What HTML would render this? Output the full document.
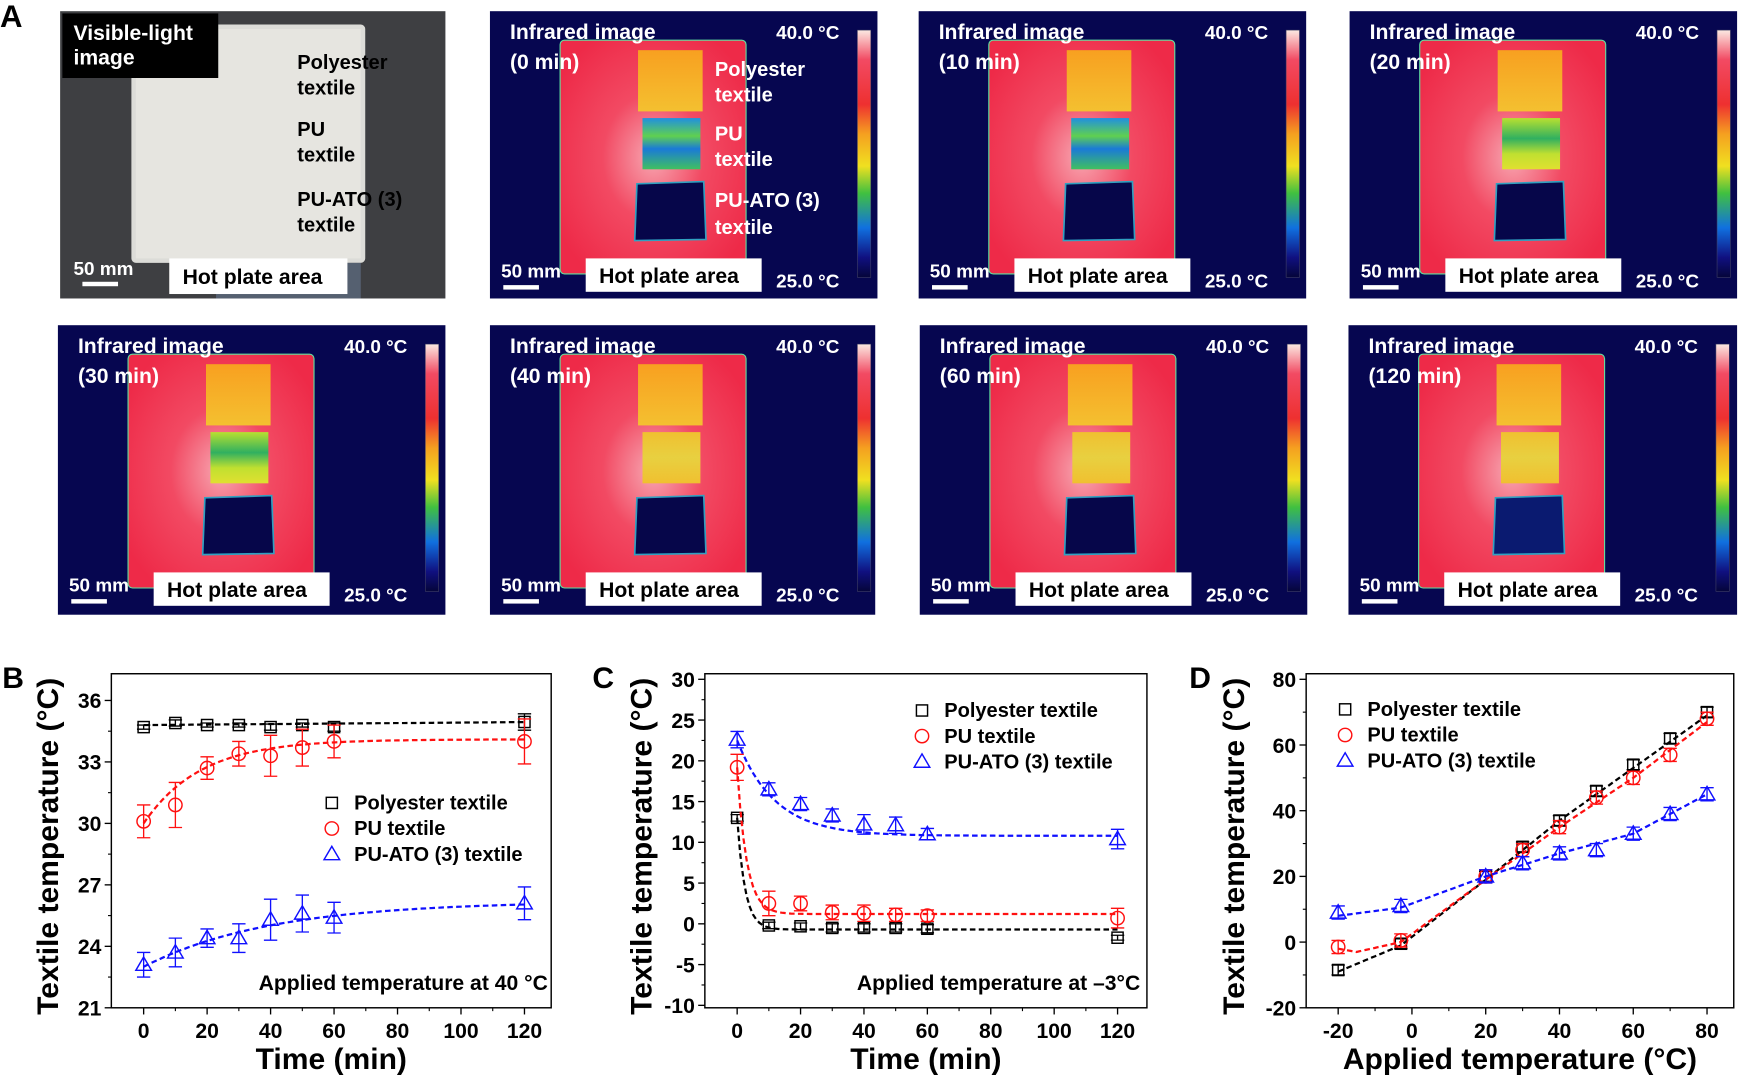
<!DOCTYPE html>
<html><head><meta charset="utf-8"><style>
html,body{margin:0;padding:0;background:#fff;}
svg{display:block;font-family:"Liberation Sans",Arial,sans-serif;font-weight:bold;}
</style></head><body>
<svg id="s" width="1746" height="1078" viewBox="0 0 1568 968" xmlns="http://www.w3.org/2000/svg">
<defs>
<radialGradient id="plate" cx="50%" cy="50%" r="60%">
<stop offset="0" stop-color="#f7a7b2"/><stop offset="0.45" stop-color="#f24a63"/><stop offset="1" stop-color="#ee2a48"/>
</radialGradient>
<linearGradient id="cbar" x1="0" y1="0" x2="0" y2="1">
<stop offset="0" stop-color="#fbe9e2"/><stop offset="0.12" stop-color="#f24a63"/><stop offset="0.3" stop-color="#ee3030"/>
<stop offset="0.42" stop-color="#f5a020"/><stop offset="0.55" stop-color="#f0e020"/><stop offset="0.66" stop-color="#40c040"/>
<stop offset="0.8" stop-color="#1070e0"/><stop offset="0.92" stop-color="#101080"/><stop offset="1" stop-color="#05053a"/>
</linearGradient>
<linearGradient id="pe" x1="0" y1="0" x2="0" y2="1"><stop offset="0" stop-color="#f8a020"/><stop offset="1" stop-color="#f4c030"/></linearGradient>
<linearGradient id="pu0" x1="0" y1="0" x2="0" y2="1"><stop offset="0" stop-color="#2090e0"/><stop offset="0.35" stop-color="#60d050"/><stop offset="0.6" stop-color="#1a7ad8"/><stop offset="1" stop-color="#40c060"/></linearGradient>
<linearGradient id="pu1" x1="0" y1="0" x2="0" y2="1"><stop offset="0" stop-color="#b8e030"/><stop offset="0.4" stop-color="#30b060"/><stop offset="0.7" stop-color="#c0e030"/><stop offset="1" stop-color="#e0e030"/></linearGradient>
<linearGradient id="pu2" x1="0" y1="0" x2="0" y2="1"><stop offset="0" stop-color="#f0c030"/><stop offset="0.5" stop-color="#e8d040"/><stop offset="1" stop-color="#f0c030"/></linearGradient>
</defs>
<g id="root"></g>
</svg>
<script>
var NS="http://www.w3.org/2000/svg",root=document.getElementById("root");
function el(t,a,txt,p){var e=document.createElementNS(NS,t);for(var k in a)e.setAttribute(k,a[k]);if(txt!=null)e.textContent=txt;(p||root).appendChild(e);return e;}
function tx(x,y,s,sz,a){a=a||{};a.x=x;a.y=y;a["font-size"]=sz;if(!a.fill)a.fill="#000";return el("text",a,s,a.parent);}
tx(0,24,"A",28);
(function(){var x=54,y=10,w=346,h=258;
el("rect",{x:x,y:y,width:w,height:h,fill:"#3e3f42"});
el("rect",{x:x+64,y:y+12,width:210,height:214,rx:4,fill:"#dcdcd8"});
el("rect",{x:x+68,y:y+16,width:202,height:206,fill:"#e6e5e0"});
el("rect",{x:x+140,y:y+226,width:130,height:32,fill:"#556070"});
el("rect",{x:x+2,y:y+2,width:140,height:58,fill:"#000"});
tx(x+12,y+26,"Visible-light",19,{fill:"#fff"});tx(x+12,y+48,"image",19,{fill:"#fff"});
tx(x+213,y+52,"Polyester",18);tx(x+213,y+75,"textile",18);
tx(x+213,y+112,"PU",18);tx(x+213,y+135,"textile",18);
tx(x+213,y+175,"PU-ATO (3)",18);tx(x+213,y+198,"textile",18);
el("rect",{x:x+98,y:y+222,width:160,height:32,fill:"#fff"});
tx(x+110,y+245,"Hot plate area",19);
tx(x+12,y+237,"50 mm",17,{fill:"#fff"});
el("rect",{x:x+20,y:y+243,width:32,height:4,fill:"#fff"});
})();
function ir(x,y,w,h,t,pu,first,ati){
el("rect",{x:x,y:y,width:w,height:h,fill:"#060650"});
el("rect",{x:x+63,y:y+26,width:167,height:210,rx:4,fill:"url(#plate)",stroke:"#60e0a0","stroke-width":1});
el("rect",{x:x+133,y:y+35,width:58,height:55,fill:"url(#pe)"});
el("rect",{x:x+137,y:y+96,width:52,height:46,fill:"url("+pu+")"});
el("path",{d:"M"+(x+132)+" "+(y+155)+"L"+(x+192)+" "+(y+153)+"L"+(x+194)+" "+(y+205)+"L"+(x+130)+" "+(y+206)+"Z",fill:ati||"#06064a",stroke:"#30a0c0","stroke-width":1.5});
el("rect",{x:x+330,y:y+17,width:12,height:222,fill:"url(#cbar)",stroke:"#446","stroke-width":0.5});
tx(x+18,y+25,"Infrared image",19,{fill:"#fff"});tx(x+18,y+52,"("+t+" min)",19,{fill:"#fff"});
tx(x+257,y+25,"40.0 °C",17,{fill:"#fff"});tx(x+257,y+248,"25.0 °C",17,{fill:"#fff"});
if(first){tx(x+202,y+58,"Polyester",18,{fill:"#fff"});tx(x+202,y+81,"textile",18,{fill:"#fff"});
tx(x+202,y+116,"PU",18,{fill:"#fff"});tx(x+202,y+139,"textile",18,{fill:"#fff"});
tx(x+202,y+176,"PU-ATO (3)",18,{fill:"#fff"});tx(x+202,y+200,"textile",18,{fill:"#fff"});}
el("rect",{x:x+86,y:y+222,width:158,height:30,fill:"#fff"});
tx(x+98,y+244,"Hot plate area",19);
tx(x+10,y+239,"50 mm",17,{fill:"#fff"});
el("rect",{x:x+12,y:y+246,width:32,height:4,fill:"#fff"});
}
ir(440,10,348,258,"0","#pu0",true);
ir(825,10,348,258,"10","#pu0",false);
ir(1212,10,348,258,"20","#pu1",false);
ir(52,292,348,260,"30","#pu1",false);
ir(440,292,346,260,"40","#pu2",false);
ir(826,292,348,260,"60","#pu2",false);
ir(1211,292,349,260,"120","#pu2",false,"#0a1a70");

var BL="#000",RD="#ff1010",BU="#1010ff";
function marker(kind,x,y,c){
if(kind==0)el("rect",{x:x-5,y:y-5,width:10,height:10,fill:"none",stroke:c,"stroke-width":1.3});
else if(kind==1)el("circle",{cx:x,cy:y,r:6,fill:"none",stroke:c,"stroke-width":1.3});
else el("path",{d:"M"+x+" "+(y-7)+"L"+(x+7)+" "+(y+5)+"L"+(x-7)+" "+(y+5)+"Z",fill:"none",stroke:c,"stroke-width":1.3});}
function plot(o){
var X=o.X,Y=o.Y;
el("rect",{x:o.l,y:o.t,width:o.r-o.l,height:o.b-o.t,fill:"none",stroke:"#000","stroke-width":1.3});
o.xt.forEach(function(v){var px=X(v);el("line",{x1:px,y1:o.b,x2:px,y2:o.b+6,stroke:"#000","stroke-width":1.2});tx(px,o.b+27,String(v),19,{"text-anchor":"middle"});});
(o.xm||[]).forEach(function(v){var px=X(v);el("line",{x1:px,y1:o.b,x2:px,y2:o.b+3,stroke:"#000"});});
o.yt.forEach(function(v){var py=Y(v);el("line",{x1:o.l,y1:py,x2:o.l-6,y2:py,stroke:"#000","stroke-width":1.2});tx(o.l-9,py+7,String(v),19,{"text-anchor":"end"});});
(o.ym||[]).forEach(function(v){var py=Y(v);el("line",{x1:o.l,y1:py,x2:o.l-3,y2:py,stroke:"#000"});});
tx(o.l+(o.r-o.l)/2,o.b+55,o.xl,27,{"text-anchor":"middle"});
tx(0,0,"Textile temperature (°C)",27,{"text-anchor":"middle",transform:"translate("+o.yl+","+((o.t+o.b)/2+5)+") rotate(-90)"});
tx(o.L[0],o.L[1],o.lab,27);
var cols=[BL,RD,BU];
o.series.forEach(function(s,i){
var d="";s.fit.forEach(function(p,j){d+=(j?"L":"M")+X(p[0]).toFixed(1)+" "+Y(p[1]).toFixed(1);});
el("path",{d:d,fill:"none",stroke:cols[i],"stroke-width":2,"stroke-dasharray":"5,3"});
s.pts.forEach(function(p){var px=X(p[0]),py=Y(p[1]);
if(p[2]){var y1=Y(p[1]+p[2]),y2=Y(p[1]-p[2]);el("path",{d:"M"+px+" "+y1+"V"+y2+"M"+(px-6)+" "+y1+"h12M"+(px-6)+" "+y2+"h12",stroke:cols[i],"stroke-width":1.2,fill:"none"});}
marker(i,px,py,cols[i]);});
});
var lg=o.leg,names=["Polyester textile","PU textile","PU-ATO (3) textile"];
names.forEach(function(n,i){marker(i,lg[0],lg[1]+i*23-6,cols[i]);tx(lg[0]+20,lg[1]+i*23,n,18);});
tx(o.note[0],o.note[1],o.note[2],19,{"text-anchor":"end"});
}
function fitf(f,a,b){var r=[];for(var t=a;t<=b+1e-9;t+=(b-a)/120)r.push([t,f(t)]);return r;}
plot({l:100,r:495,t:605,b:905,X:function(v){return 129+v*2.85;},Y:function(v){return 905-(v-21)*18.4;},
xt:[0,20,40,60,80,100,120],xm:[10,30,50,70,90,110],yt:[21,24,27,30,33,36],ym:[22.5,25.5,28.5,31.5,34.5],
xl:"Time (min)",yl:52,L:[2,618],lab:"B",leg:[298,727],note:[492,889,"Applied temperature at 40 °C"],
series:[
{pts:[[0,34.7,0.1],[10,34.9,0.15],[20,34.8,0.1],[30,34.8,0.1],[40,34.7,0.15],[50,34.8,0.1],[60,34.7,0.2],[120,34.95,0.4]],fit:fitf(function(t){return 34.8+0.0012*t;},0,120)},
{pts:[[0,30.1,0.8],[10,30.9,1.1],[20,32.7,0.55],[30,33.4,0.6],[40,33.3,1.0],[50,33.7,0.9],[60,34.0,0.8],[120,34.0,1.1]],fit:fitf(function(t){return 30+4.1*(1-Math.exp(-t/18));},0,120)},
{pts:[[0,23.1,0.6],[10,23.7,0.7],[20,24.4,0.45],[30,24.4,0.7],[40,25.3,1.0],[50,25.6,0.9],[60,25.4,0.75],[120,26.1,0.8]],fit:fitf(function(t){return 23.0+3.2*(1-Math.exp(-t/40));},0,120)}]});
plot({l:633,r:1030,t:605,b:905,X:function(v){return 662+v*2.847;},Y:function(v){return 610+(30-v)*7.32;},
xt:[0,20,40,60,80,100,120],xm:[10,30,50,70,90,110],yt:[-10,-5,0,5,10,15,20,25,30],ym:[-7.5,-2.5,2.5,7.5,12.5,17.5,22.5,27.5],
xl:"Time (min)",yl:585,L:[532,618],lab:"C",leg:[828,644],note:[1024,889,"Applied temperature at \u20133°C"],
series:[
{pts:[[0,13,0.4],[10,-0.2,0.4],[20,-0.3,0.4],[30,-0.5,0.5],[40,-0.5,0.5],[50,-0.5,0.5],[60,-0.6,0.5],[120,-1.7,0.3]],fit:fitf(function(t){return -0.7+13.7*Math.exp(-t/2.5);},0,120)},
{pts:[[0,19.2,1.6],[10,2.5,1.5],[20,2.5,0.9],[30,1.4,0.9],[40,1.3,1.0],[50,1.1,0.8],[60,1.0,0.7],[120,0.7,1.2]],fit:fitf(function(t){return 1.2+18*Math.exp(-t/3);},0,120)},
{pts:[[0,22.6,1.0],[10,16.5,0.8],[20,14.7,0.8],[30,13.3,0.8],[40,12.2,1.2],[50,12.1,1.0],[60,11.0,0.7],[120,10.4,1.2]],fit:fitf(function(t){return 10.8+11.7*Math.exp(-t/12);},0,120)}]});
function interp(xs,ys){return function(t){for(var i=0;i<xs.length-1;i++){if(t<=xs[i+1]){var u=(t-xs[i])/(xs[i+1]-xs[i]);return ys[i]+(ys[i+1]-ys[i])*u;}}return ys[ys.length-1];};}
var dx=[-20,-3,20,30,40,50,60,70,80];
plot({l:1173,r:1557,t:605,b:905,X:function(v){return 1268+v*3.3125;},Y:function(v){return 905-(v+20)*2.95;},
xt:[-20,0,20,40,60,80],xm:[-10,10,30,50,70],yt:[-20,0,20,40,60,80],ym:[-10,10,30,50,70],
xl:"Applied temperature (°C)",yl:1117,L:[1068,618],lab:"D",leg:[1208,643],note:[0,0,""],
series:[
{pts:dx.map(function(v,i){return [v,[-8.5,-0.5,20,29,37,46,54,62,70][i],1.5];}),fit:fitf(interp([-20,-3,20,40,60,80],[-9,-1,19,37,53,69]),-20,80)},
{pts:dx.map(function(v,i){return [v,[-1.5,0.5,20,28,35,44,50,57,68][i],2];}),fit:fitf(interp([-20,-15,-3,20,40,60,80],[-2,-3,0,19,35,50,67]),-20,80)},
{pts:dx.map(function(v,i){return [v,[9,11,20,24,27,28,33,39,45][i],2];}),fit:fitf(interp([-20,-3,20,40,60,80],[8,10.5,20,27,33,45]),-20,80)}]});
</script>
</body></html>
